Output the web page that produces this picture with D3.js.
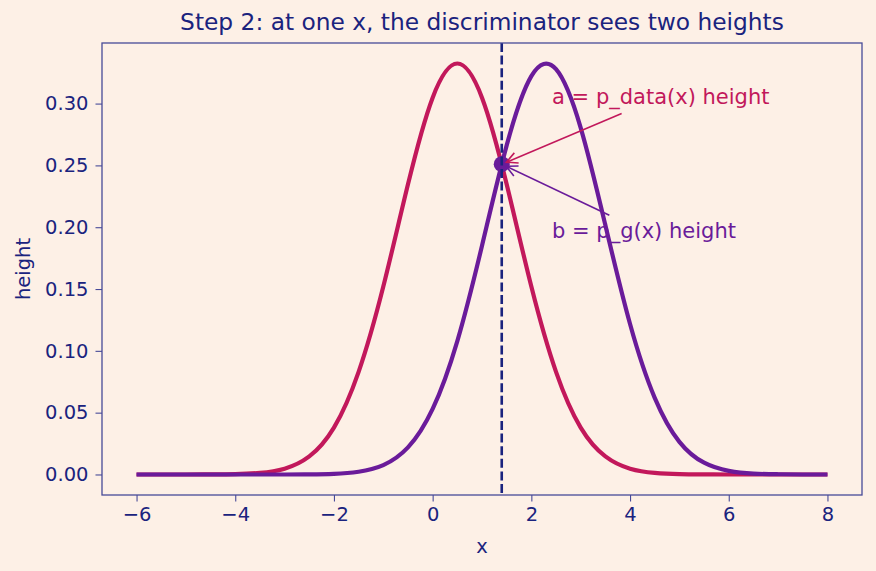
<!DOCTYPE html>
<html>
<head>
<meta charset="utf-8">
<script src="https://cdnjs.cloudflare.com/ajax/libs/d3/7.8.5/d3.min.js"></script>
<style>
  html, body { margin: 0; padding: 0; background: #fdf0e6; }
  svg { display: block; font-family: "DejaVu Sans", sans-serif; }
</style>
</head>
<body>
<svg id="chart" width="876" height="571"></svg>
<script>
var xs = [-6, -5.5, -5, -4.5, -4, -3.5, -3, -2.5, -2, -1.5, -1, -0.5, 0, 0.5, 1,
  1.5, 2, 2.5, 3, 3.5, 4, 4.5, 5, 5.5, 6, 6.5, 7, 7.5, 8];

var pData = [0, 0, 0, 0.0001, 0.0003, 0.0013, 0.0047, 0.0146, 0.0379, 0.083, 0.152,
  0.2347, 0.3048, 0.3324, 0.3048, 0.2347, 0.152, 0.083, 0.0379, 0.0146, 0.0047,
  0.0013, 0.0003, 0.0001, 0, 0, 0, 0, 0];

var pG = [0, 0, 0, 0, 0, 0, 0, 0.0001, 0.0005, 0.0022, 0.0076, 0.0219, 0.053, 0.1079,
  0.185, 0.2662, 0.3222, 0.3278, 0.2804, 0.2016, 0.1217, 0.062, 0.0264, 0.0095,
  0.0029, 0.0007, 0.0002, 0, 0];

var xTicks = [-6, -4, -2, 0, 2, 4, 6, 8];
var yTicks = [0, 0.05, 0.10, 0.15, 0.20, 0.25, 0.30];

var probeX = 1.4;
var probeY = 0.251;

var labelA = {text: "a = p_data(x) height", x: 2.42, y: 0.30};
var labelB = {text: "b = p_g(x) height", x: 2.42, y: 0.191};

var RED = "#c2185b", PURPLE = "#6a1b9a", NAVY = "#1a237e", SPINE = "#474a98";

var margin = {left: 102, right: 14, top: 43, bottom: 76},
  width = 876, height = 571;

var svg = d3.select("#chart");

var x = d3.scaleLinear().domain([-6.7, 8.7]).range([margin.left, width - margin.right]);
var y = d3.scaleLinear().domain([-0.0166, 0.349]).range([height - margin.bottom, margin.top]);

svg.append("defs").append("clipPath").attr("id", "plotclip")
  .append("rect")
  .attr("x", margin.left).attr("y", margin.top)
  .attr("width", width - margin.left - margin.right)
  .attr("height", height - margin.top - margin.bottom);

function fmtX(d) { return d < 0 ? "\u2212" + Math.abs(d) : String(d); }

// axes
var xAxis = svg.append("g")
  .attr("transform", "translate(0," + (height - margin.bottom) + ")")
  .call(d3.axisBottom(x).tickValues(xTicks).tickFormat(fmtX).tickSizeOuter(0).tickSize(6.5).tickPadding(6));
var yAxis = svg.append("g")
  .attr("transform", "translate(" + margin.left + ",0)")
  .call(d3.axisLeft(y).tickValues(yTicks).tickFormat(d3.format(".2f")).tickSizeOuter(0).tickSize(6.5).tickPadding(7));

[xAxis, yAxis].forEach(function(g) {
  g.select(".domain").remove();
  g.selectAll(".tick line").attr("stroke", SPINE).attr("stroke-width", 1.1);
  g.selectAll(".tick text").attr("fill", NAVY).style("font-size", "19.5px")
    .style("font-family", "DejaVu Sans, sans-serif");
});

var px = x(probeX), py = y(probeY);

var line = d3.line()
  .x(function(d) { return x(d[0]); })
  .y(function(d) { return y(d[1]); })
  .curve(d3.curveNatural);

var plot = svg.append("g").attr("clip-path", "url(#plotclip)");

plot.append("path")
  .datum(xs.map(function(v, i) { return [v, pData[i]]; }))
  .attr("d", line)
  .attr("fill", "none").attr("stroke", RED).attr("stroke-width", 4.2)
  .attr("stroke-linejoin", "round");

plot.append("path")
  .datum(xs.map(function(v, i) { return [v, pG[i]]; }))
  .attr("d", line)
  .attr("fill", "none").attr("stroke", PURPLE).attr("stroke-width", 4.2)
  .attr("stroke-linejoin", "round");

plot.append("circle")
  .attr("cx", px).attr("cy", py).attr("r", 8)
  .attr("fill", PURPLE);

// probe line
plot.append("line")
  .attr("x1", px).attr("x2", px)
  .attr("y1", margin.top).attr("y2", height - margin.bottom)
  .attr("stroke", NAVY).attr("stroke-width", 2.6)
  .attr("stroke-dasharray", "9,3.6");

// spines
svg.append("rect")
  .attr("x", margin.left).attr("y", margin.top)
  .attr("width", width - margin.left - margin.right)
  .attr("height", height - margin.top - margin.bottom)
  .attr("fill", "none").attr("stroke", SPINE).attr("stroke-width", 1.3);

// annotations with arrows
function annotate(lab, color) {
  var t = svg.append("text")
    .attr("x", x(lab.x)).attr("y", y(lab.y))
    .attr("fill", color).style("font-size", "21px")
    .text(lab.text);
  var b = t.node().getBBox();
  var pad = 4;
  var cx = b.x + b.width / 2, cy = b.y + b.height / 2;
  var dx = px - cx, dy = py - cy;
  var hw = b.width / 2 + pad, hh = b.height / 2 + pad;
  var s = Math.min(Math.abs(hw / dx), Math.abs(hh / dy));
  var sx = cx + dx * s, sy = cy + dy * s;
  var len = Math.sqrt((px - sx) * (px - sx) + (py - sy) * (py - sy));
  var ux = (px - sx) / len, uy = (py - sy) / len;
  var ex = px - ux * 5, ey = py - uy * 5;
  var g = svg.append("g").attr("stroke", color).attr("stroke-width", 1.6).attr("fill", "none");
  g.append("line").attr("x1", sx).attr("y1", sy).attr("x2", ex).attr("y2", ey);
  var hl = 11, hw2 = 5.5;
  var bx = ex - ux * hl, by = ey - uy * hl;
  g.append("path")
    .attr("d", "M" + (bx - uy * hw2) + "," + (by + ux * hw2) + "L" + ex + "," + ey +
      "L" + (bx + uy * hw2) + "," + (by - ux * hw2));
}
annotate(labelA, RED);
annotate(labelB, PURPLE);

// titles
svg.append("text")
  .attr("x", (margin.left + width - margin.right) / 2).attr("y", 30)
  .attr("text-anchor", "middle").attr("fill", NAVY).style("font-size", "23.3px")
  .text("Step 2: at one x, the discriminator sees two heights");

svg.append("text")
  .attr("x", (margin.left + width - margin.right) / 2).attr("y", 553)
  .attr("text-anchor", "middle").attr("fill", NAVY).style("font-size", "19.5px")
  .text("x");

svg.append("text")
  .attr("transform", "translate(30," + ((margin.top + height - margin.bottom) / 2) + ") rotate(-90)")
  .attr("text-anchor", "middle").attr("fill", NAVY).style("font-size", "19.5px")
  .text("height");
</script>
</body>
</html>
